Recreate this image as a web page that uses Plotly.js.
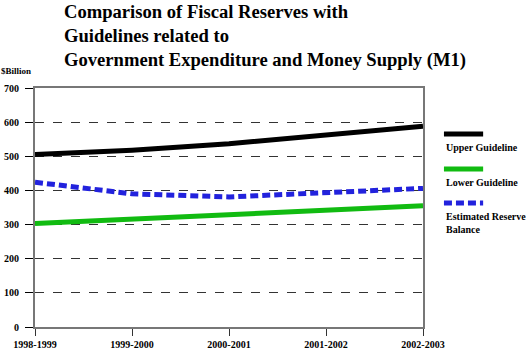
<!DOCTYPE html>
<html><head><meta charset="utf-8">
<script src="https://cdn.plot.ly/plotly-3.0.1.min.js"></script>
<style>body{margin:0;background:#fff}#c{width:526px;height:360px}</style>
</head><body><div id="c"></div>
<script>
const years = ["1998-1999","1999-2000","2000-2001","2001-2002","2002-2003"];
const upperGuideline = [505, 518, 537, 563, 588];
const lowerGuideline = [303, 316, 330, 342, 355];
const estimatedReserve = [424, 390, 381, 395, 406];
const seriesNames = ["Upper Guideline","Lower Guideline","Estimated Reserve<br>Balance"];
const yTicks = [0,100,200,300,400,500,600,700];

const F = "'Liberation Serif', 'Times New Roman', Times, serif";
const colors = ["#000000","#11bb11","#2222dd"];
const dashes = ["solid","solid","8px,4px"];
const data = [upperGuideline, lowerGuideline, estimatedReserve].map((v,i)=>({
  x: years, y: v, type:"scatter", mode:"lines", name: seriesNames[i],
  line:{color:colors[i], width:5, dash:dashes[i]}, showlegend:false, hoverinfo:"none"
}));

const legY = [0.8075, 0.661, 0.519];
const shapes = [], annotations = [];
seriesNames.forEach((n,i)=>{
  shapes.push({type:"line", xref:"paper", yref:"paper", x0:1.054, x1:1.155, y0:legY[i], y1:legY[i],
    line:{color:colors[i], width:5, dash:dashes[i]}});
  annotations.push({xref:"paper", yref:"paper", x:1.053, y:legY[i]-0.027, xanchor:"left", yanchor:"top",
    align:"left", showarrow:false, text:"<b>"+n+"</b>", font:{family:F, size:10, color:"#000"}});
});
annotations.push({xref:"paper", yref:"paper", x:-0.092, y:1.071, xanchor:"left", yanchor:"middle", showarrow:false,
  text:"<b>$Billion</b>", font:{family:F, size:9, color:"#000"}});
annotations.push({xref:"paper", yref:"paper", x:0.07, y:1.372, xanchor:"left", yanchor:"top", align:"left", showarrow:false,
  text:"<b>Comparison of Fiscal Reserves with<br>Guidelines related to<br>Government Expenditure and Money Supply (M1)</b>",
  font:{family:F, size:18.6, color:"#000"}});

const layout = {
  width:526, height:360,
  margin:{l:35, r:103, t:88, b:33},
  paper_bgcolor:"#fff", plot_bgcolor:"#fff",
  xaxis:{type:"category", range:[0,4], showgrid:false, zeroline:false,
    showline:true, linecolor:"#777", linewidth:2, mirror:true,
    ticks:"outside", ticklen:7, tickcolor:"#333", tickwidth:1,
    tickfont:{family:F, size:10, color:"#000", weight:"bold"}, fixedrange:true},
  yaxis:{range:[0,700], tickvals:yTicks, showgrid:true, gridcolor:"#333", griddash:"dash", gridwidth:1,
    zeroline:false, showline:true, linecolor:"#777", linewidth:2, mirror:true,
    ticks:"outside", ticklen:8, tickcolor:"#000", tickwidth:1, ticklabelstandoff:4,
    tickfont:{family:F, size:10, color:"#000", weight:"bold"}, fixedrange:true},
  shapes: shapes, annotations: annotations
};
Plotly.newPlot("c", data, layout, {displayModeBar:false, staticPlot:true});
</script></body></html>
